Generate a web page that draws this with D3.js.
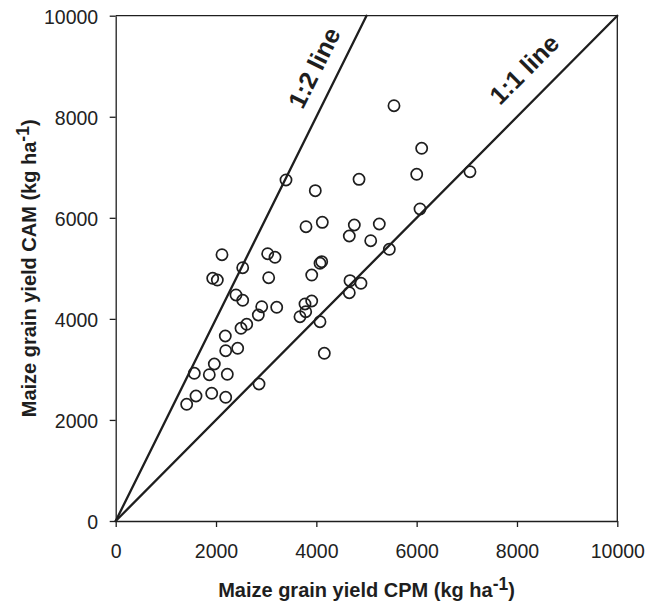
<!DOCTYPE html>
<html>
<head>
<meta charset="utf-8">
<script src="https://cdn.jsdelivr.net/npm/d3@7"></script>
<style>
  html, body { margin: 0; padding: 0; background: #fff; }
  svg { display: block; font-family: "Liberation Sans", Arial, sans-serif; }
</style>
</head>
<body>
<svg id="chart" width="648" height="603"></svg>
<script>
// ---- data ----
const cpm = [2119, 2532, 3030, 3176, 4107, 4073, 1934, 2026, 3050, 3908,
             2398, 2532, 2911, 2843, 3210, 3774, 3908, 3788, 3674, 4073,
             2612, 2498, 2185, 2193, 2432, 4159, 1966, 1567, 1866, 2225,
             2857, 1601, 1914, 2193, 1415, 5548, 6100, 6001, 7063, 4851,
             3395, 3979, 6067, 3794, 4119, 4757, 5255, 4657, 5084, 5455,
             4671, 4890, 4657];
const cam = [5270, 5013, 5290, 5219, 5132, 5100, 4803, 4769, 4815, 4868,
             4473, 4368, 4241, 4077, 4229, 4295, 4354, 4142, 4043, 3944,
             3893, 3814, 3661, 3370, 3418, 3319, 3107, 2923, 2895, 2903,
             2711, 2474, 2527, 2448, 2310, 8219, 7376, 6861, 6913, 6762,
             6749, 6537, 6175, 5824, 5911, 5858, 5878, 5640, 5547, 5377,
             4756, 4704, 4518];
const xTicks = [0, 2000, 4000, 6000, 8000, 10000];
const yTicks = [0, 2000, 4000, 6000, 8000, 10000];
const refSlopes = [2, 1];
const refLabels = ["1:2 line", "1:1 line"];
const xTitle = "Maize grain yield CPM (kg ha";
const yTitle = "Maize grain yield CAM (kg ha";
const supText = "-1";

// ---- layout ----
(function () {
const svg = d3.select("#chart");
const ink = "#1e1e1e";
const mL = 115.7, mR = 617.3, mT = 15.7, mB = 521;
const x = d3.scaleLinear().domain([0, 10000]).range([mL, mR]);
const y = d3.scaleLinear().domain([0, 10000]).range([mB, mT]);

// frame (top and right)
svg.append("path")
  .attr("d", `M${x(0)},${y(10000)}H${x(10000)}V${y(0)}`)
  .attr("fill", "none").attr("stroke", ink).attr("stroke-width", 1.3);

const xAxis = svg.append("g").attr("transform", `translate(0,${mB})`)
  .call(d3.axisBottom(x).tickValues(xTicks).tickFormat(d3.format("d"))
        .tickSize(6).tickSizeOuter(0).tickPadding(17));
const yAxis = svg.append("g").attr("transform", `translate(${mL},0)`)
  .call(d3.axisLeft(y).tickValues(yTicks).tickFormat(d3.format("d"))
        .tickSize(6).tickSizeOuter(0).tickPadding(11.5));
[xAxis, yAxis].forEach(g => {
  g.select(".domain").attr("stroke", ink).attr("stroke-width", 1.3);
  g.selectAll(".tick line").attr("stroke", ink).attr("stroke-width", 1.3);
  g.selectAll(".tick text").attr("fill", "#222").attr("font-size", 19.5)
    .attr("font-family", "Liberation Sans, Arial, sans-serif");
});
yAxis.selectAll(".tick text").attr("dy", "0.4em");

// reference lines
refSlopes.forEach(s => {
  const xEnd = Math.min(10000, 10000 / s);
  svg.append("line")
    .attr("x1", x(0)).attr("y1", y(0))
    .attr("x2", x(xEnd)).attr("y2", y(xEnd * s))
    .attr("stroke", ink).attr("stroke-width", 2.3)
    .attr("stroke-linecap", "round");
});

// reference line labels
const labelPos = [{along: 4380, off: 24}, {along: 8545, off: 28.6}];
refSlopes.forEach((s, i) => {
  const px0 = x(0), py0 = y(0);
  const px1 = x(labelPos[i].along), py1 = y(labelPos[i].along * s);
  const dx = px1 - px0, dy = py1 - py0, len = Math.hypot(dx, dy);
  const ux = dx / len, uy = dy / len;
  const nx = uy, ny = -ux;
  const cx = px1 + nx * labelPos[i].off, cy = py1 + ny * labelPos[i].off;
  const ang = Math.atan2(dy, dx) * 180 / Math.PI;
  svg.append("text")
    .attr("transform", `translate(${cx},${cy}) rotate(${ang})`)
    .attr("text-anchor", "middle").attr("dy", "0.36em")
    .attr("font-size", 25).attr("font-weight", "bold").attr("fill", ink)
    .text(refLabels[i]);
});

// points
svg.append("g").selectAll("circle")
  .data(d3.range(cpm.length))
  .join("circle")
  .attr("cx", i => x(cpm[i])).attr("cy", i => y(cam[i]))
  .attr("r", 5.6)
  .attr("fill", "none").attr("stroke", ink).attr("stroke-width", 1.7);

// axis titles
function title(sel, main) {
  sel.attr("font-size", 20).attr("font-weight", "bold").attr("fill", ink)
    .attr("text-anchor", "middle");
  sel.append("tspan").text(main);
  sel.append("tspan").attr("font-size", 17.5).attr("dy", -7).text(supText);
  sel.append("tspan").attr("dy", 7).text(")");
}
svg.append("text")
  .attr("x", (mL + mR) / 2).attr("y", 596.5)
  .call(title, xTitle);
svg.append("text")
  .attr("transform", `translate(35.5,${(mT + mB) / 2}) rotate(-90)`)
  .call(title, yTitle);
})();
</script>
</body>
</html>
